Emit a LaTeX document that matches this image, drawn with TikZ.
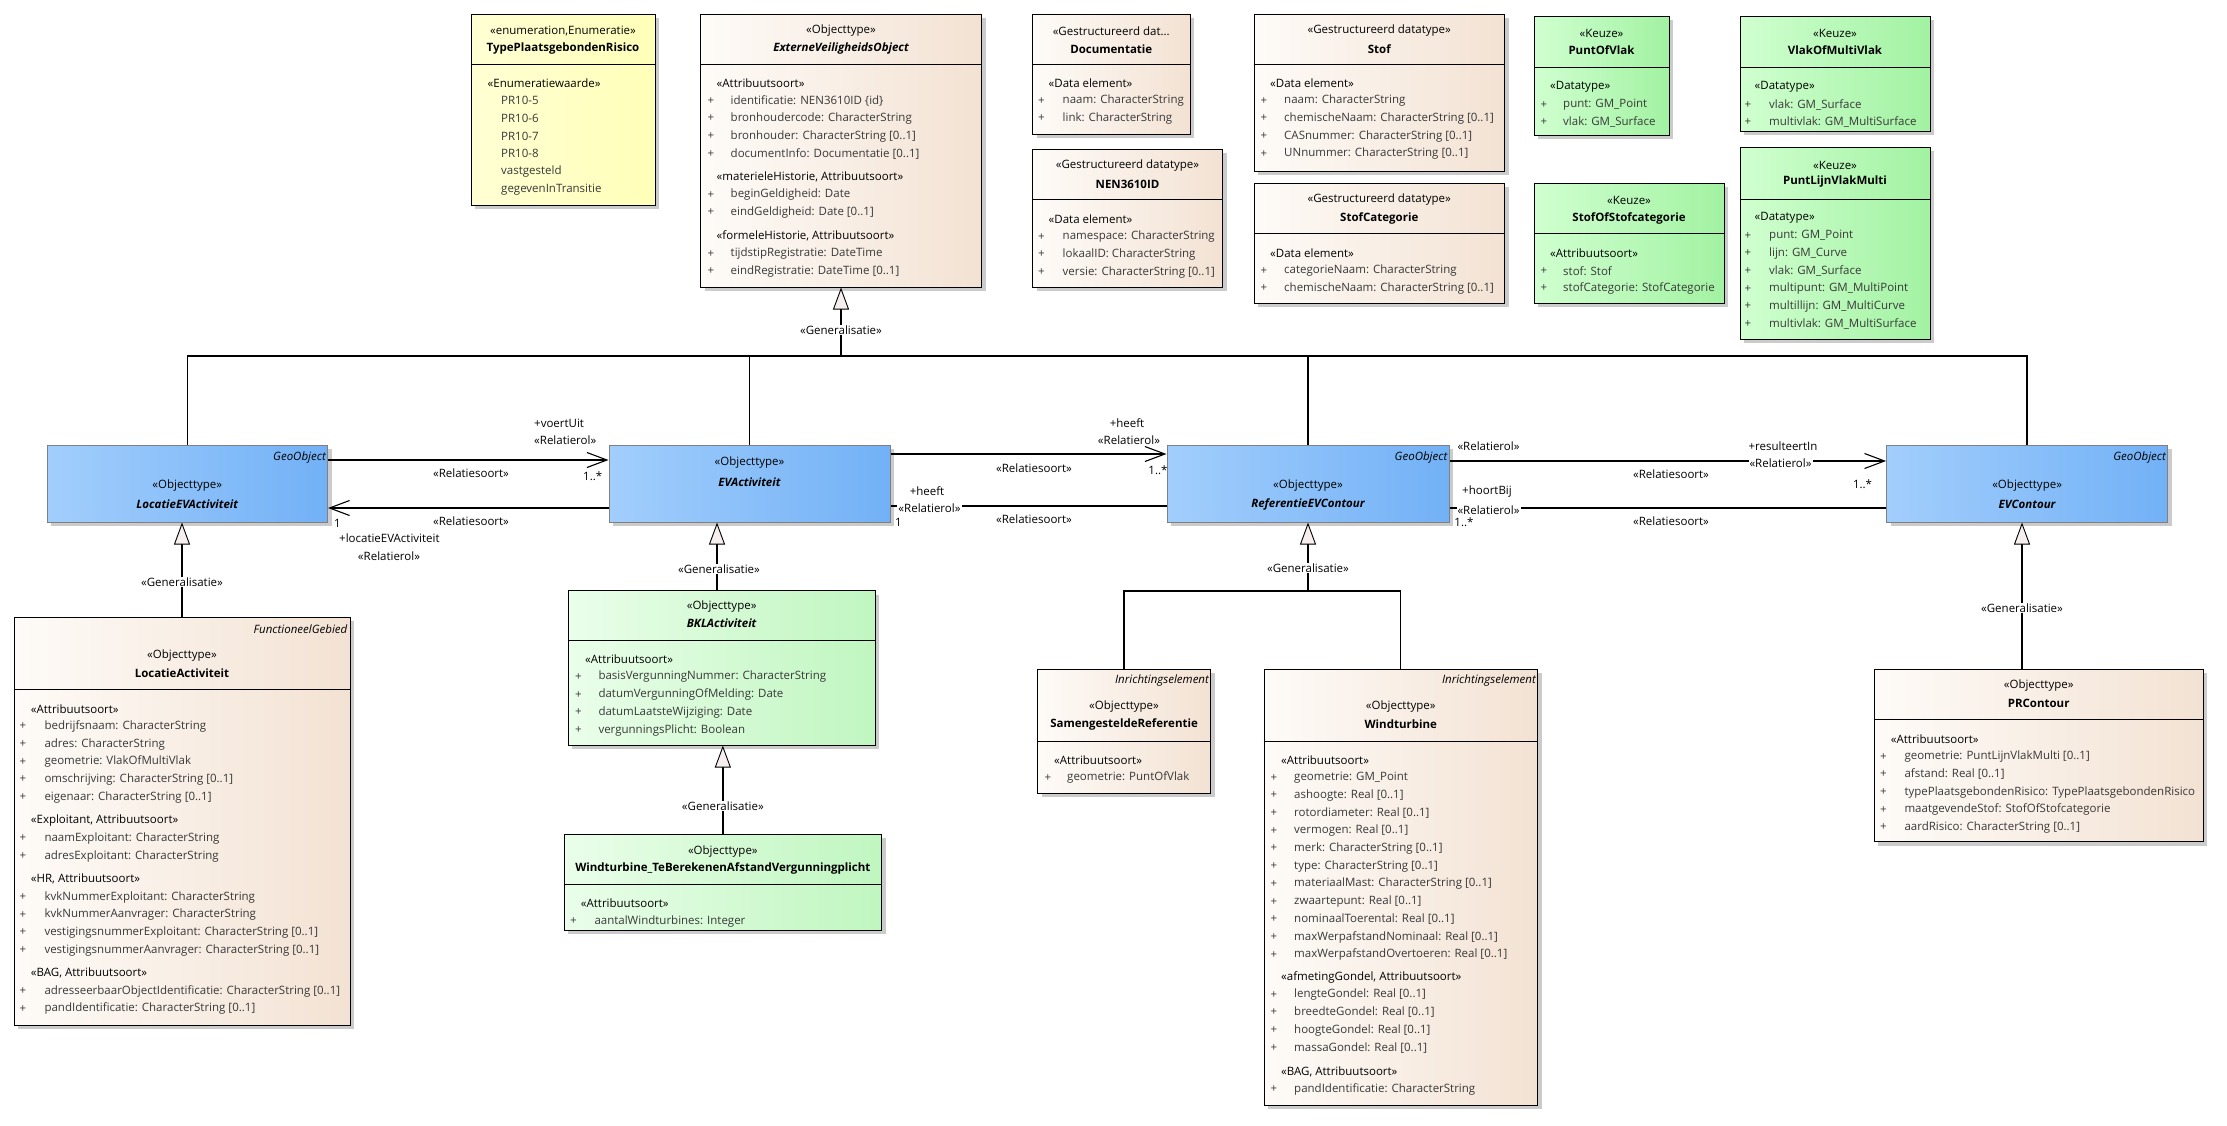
\documentclass[tikz,border=0pt]{standalone}
\usepackage{fontspec}
\setmainfont{Open Sans}
\usepackage{tikz}
\usetikzlibrary{arrows.meta,positioning,fit,calc,shadows}
\definecolor{beigeL}{HTML}{FEFBF8}
\definecolor{beigeR}{HTML}{F3E2D3}
\definecolor{geoL}{HTML}{A2CEFC}
\definecolor{geoR}{HTML}{72B1F6}
\definecolor{bklL}{HTML}{EAFEEA}
\definecolor{bklR}{HTML}{C0F6C0}
\definecolor{keuzeL}{HTML}{D0FFD0}
\definecolor{keuzeR}{HTML}{A2F2A2}
\definecolor{enumL}{HTML}{FFFFD4}
\definecolor{enumR}{HTML}{FFFFB8}
\definecolor{genfill}{HTML}{F7EFEF}
\newcommand{\fs}{\fontsize{11.5}{13}\selectfont}
\tikzset{%
  % classes
  box/.style={draw=black, line width=1pt, inner sep=0pt,
    drop shadow={shadow xshift=4pt, shadow yshift=-4pt, fill=black!40, opacity=0.5}},
  objbox/.style={box, left color=beigeL, right color=beigeR},
  geobox/.style={box, draw=black!50, left color=geoL, right color=geoR},
  bklbox/.style={box, left color=bklL, right color=bklR},
  keuzebox/.style={box, left color=keuzeL, right color=keuzeR},
  enumbox/.style={box, left color=enumL, right color=enumR},
  % texts
  stereo/.style={inner sep=0pt, font=\fs},
  cname/.style={inner sep=0pt, font=\fs\bfseries},
  aname/.style={inner sep=0pt, font=\fs\bfseries\itshape},
  parent/.style={inner sep=0pt, font=\fs\itshape, anchor=east},
  seclbl/.style={inner sep=0pt, font=\fs, anchor=west},
  attr/.style={inner sep=0pt, font=\fs, text=black!78, anchor=west},
  plus/.style={inner sep=0pt, font=\fs, text=black!78},
  lab/.style={inner sep=1pt, font=\fs},
  onlab/.style={lab, fill=white},
  % edge styles
  sepline/.style={line width=1pt},
  tree/.style={line width=1.3pt},
  assoc/.style={line width=1.9pt},
  rel/.style={assoc, -{Straight Barb[length=20pt,width=15pt,line width=1.1pt]}},
  gen/.style={tree, -{Triangle[length=22pt,width=16pt,fill=genfill,line width=0.9pt]}},
}
\newcommand{\umlclass}[4]{%
  % #1 = style, #2 = node name, #3 = top left, #4 = bottom right
  \node[#1, fit={(#3) (#4)}] (#2) {};
}
\newcommand{\umlsep}[2]{%
  % #1 = class, #2 = y of the compartment line
  \draw[sepline] (#1.west |- 0,#2) -- (#1.east |- 0,#2);
}
\newcommand{\umlhead}[6]{%
  % #1 = class, #2 = y stereotype, #3 = stereotype
  % #4 = y name, #5 = name style, #6 = name
  \node[stereo] (#1-st) at (#1.center |- 0,#2) {#3};
  \node[#5] (#1-nm) at (#1.center |- 0,#4) {#6};
}
\newcommand{\umlsec}[7]{%
  % #1 = section name, #2 = x label, #3 = x plus, #4 = x text
  % #5 = y label, #6 = label, #7 = attributes
  \node[seclbl] (#1) at (#2,#5) {«#6»};
  \foreach \itm [count=\k] in {#7}
    {\node[plus] (#1-p\k) at (#3,#5+\k*17.7) {+};
     \node[attr] (#1-a\k) at (#4,#5+\k*17.7) {\itm};}
}

\begin{document}
\begin{tikzpicture}[x=1pt, y=-1pt]
  \useasboundingbox[fill=white] (0,0) rectangle (2227,1125);

  % top row
  \umlclass{enumbox}{tpr}{471,14}{655,205}
  \umlsep{tpr}{64}
  \umlhead{tpr}{31}{«enumeration,Enumeratie»}{49}{cname}{TypePlaatsgebondenRisico}
  \node[seclbl] (tpr-sec) at (487.5,83) {«Enumeratiewaarde»};
  \foreach \itm [count=\k] in {PR10-5,PR10-6,PR10-7,PR10-8,vastgesteld,gegevenInTransitie}
    \node[attr] (tpr-a\k) at (501,83+\k*17.7) {\itm};

  \umlclass{objbox}{evo}{700.5,14}{981.5,287}
  \umlsep{evo}{64}
  \umlhead{evo}{31}{«Objecttype»}{49}{aname}{ExterneVeiligheidsObject}
  \umlsec{evo-s1}{716.5}{711}{730.5}{83}{Attribuutsoort}{identificatie: NEN3610ID \{id\},bronhoudercode: CharacterString,bronhouder: CharacterString [0..1],documentInfo: Documentatie [0..1]}
  \umlsec{evo-s2}{716.5}{711}{730.5}{177}{materieleHistorie, Attribuutsoort}{beginGeldigheid: Date,eindGeldigheid: Date [0..1]}
  \umlsec{evo-s3}{716.5}{711}{730.5}{236}{formeleHistorie, Attribuutsoort}{tijdstipRegistratie: DateTime,eindRegistratie: DateTime [0..1]}

  \umlclass{objbox}{doc}{1032.5,14}{1190,134}
  \umlsep{doc}{64}
  \umlhead{doc}{31}{«Gestructureerd dat...}{49}{cname}{Documentatie}
  \umlsec{doc-s1}{1048.5}{1041.5}{1062.5}{83}{Data element}{naam: CharacterString,link: CharacterString}

  \umlclass{objbox}{nen}{1032.5,149}{1222.5,287}
  \umlsep{nen}{199}
  \umlhead{nen}{166}{«Gestructureerd datatype»}{184}{cname}{NEN3610ID}
  \umlsec{nen-s1}{1048.5}{1041.5}{1062.5}{219}{Data element}{namespace: CharacterString,lokaalID: CharacterString,versie: CharacterString [0..1]}

  \umlclass{objbox}{stof}{1254,14}{1504.5,171}
  \umlsep{stof}{64}
  \umlhead{stof}{31}{«Gestructureerd datatype»}{49}{cname}{Stof}
  \umlsec{stof-s1}{1270}{1264}{1284}{83}{Data element}{naam: CharacterString,chemischeNaam: CharacterString [0..1],CASnummer: CharacterString [0..1],UNnummer: CharacterString [0..1]}

  \umlclass{objbox}{stofcat}{1254,183}{1504.5,303}
  \umlsep{stofcat}{233}
  \umlhead{stofcat}{200}{«Gestructureerd datatype»}{218}{cname}{StofCategorie}
  \umlsec{stofcat-s1}{1270}{1264}{1284}{253}{Data element}{categorieNaam: CharacterString,chemischeNaam: CharacterString [0..1]}

  \umlclass{keuzebox}{pov}{1534,16}{1669,135}
  \umlsep{pov}{67}
  \umlhead{pov}{33}{«Keuze»}{50}{cname}{PuntOfVlak}
  \umlsec{pov-s1}{1550}{1544}{1563}{87}{Datatype}{punt: GM\_Point,vlak: GM\_Surface}

  \umlclass{keuzebox}{vomv}{1740,16}{1930,131}
  \umlsep{vomv}{67}
  \umlhead{vomv}{33}{«Keuze»}{50}{cname}{VlakOfMultiVlak}
  \umlsec{vomv-s1}{1754.5}{1748}{1769}{87}{Datatype}{vlak: GM\_Surface,multivlak: GM\_MultiSurface}

  \umlclass{keuzebox}{sos}{1534,183}{1724,303}
  \umlsep{sos}{233}
  \umlhead{sos}{200}{«Keuze»}{218}{cname}{StofOfStofcategorie}
  \umlsec{sos-s1}{1550}{1544}{1563}{253}{Attribuutsoort}{stof: Stof,stofCategorie: StofCategorie}

  \umlclass{keuzebox}{plvm}{1740,147}{1930,339}
  \umlsep{plvm}{199}
  \umlhead{plvm}{165}{«Keuze»}{182}{cname}{PuntLijnVlakMulti}
  \umlsec{plvm-s1}{1754.5}{1748}{1769}{218}{Datatype}{punt: GM\_Point,lijn: GM\_Curve,vlak: GM\_Surface,multipunt: GM\_MultiPoint,multillijn: GM\_MultiCurve,multivlak: GM\_MultiSurface}

  % middle row
  \umlclass{geobox}{locev}{47,445}{327.5,522}
  \node[parent] (locev-pa) at ([xshift=-2pt]locev.east |- 0,458) {GeoObject};
  \umlhead{locev}{486}{«Objecttype»}{504}{aname}{LocatieEVActiviteit}

  \umlclass{geobox}{evact}{609,445}{890,522}
  \umlhead{evact}{463}{«Objecttype»}{482}{aname}{EVActiviteit}

  \umlclass{geobox}{refev}{1167,445}{1449,522}
  \node[parent] (refev-pa) at ([xshift=-2pt]refev.east |- 0,458) {GeoObject};
  \umlhead{refev}{486}{«Objecttype»}{504}{aname}{ReferentieEVContour}

  \umlclass{geobox}{evc}{1886.6,445}{2167.6,522}
  \node[parent] (evc-pa) at ([xshift=-2pt]evc.east |- 0,458) {GeoObject};
  \umlhead{evc}{486}{«Objecttype»}{504}{aname}{EVContour}

  % bottom row
  \umlclass{objbox}{locact}{14,617}{350,1025}
  \umlsep{locact}{689}
  \node[parent] (locact-pa) at ([xshift=-3pt]locact.east |- 0,629) {FunctioneelGebied};
  \umlhead{locact}{656}{«Objecttype»}{673}{cname}{LocatieActiviteit}
  \umlsec{locact-s1}{30.7}{23}{44.3}{708.7}{Attribuutsoort}{bedrijfsnaam: CharacterString,adres: CharacterString,geometrie: VlakOfMultiVlak,omschrijving: CharacterString [0..1],eigenaar: CharacterString [0..1]}
  \umlsec{locact-s2}{30.7}{23}{44.3}{820.7}{Exploitant, Attribuutsoort}{naamExploitant: CharacterString,adresExploitant: CharacterString}
  \umlsec{locact-s3}{30.7}{23}{44.3}{879.3}{HR, Attribuutsoort}{kvkNummerExploitant: CharacterString,kvkNummerAanvrager: CharacterString,vestigingsnummerExploitant: CharacterString [0..1],vestigingsnummerAanvrager: CharacterString [0..1]}
  \umlsec{locact-s4}{30.7}{23}{44.3}{973.3}{BAG, Attribuutsoort}{adresseerbaarObjectIdentificatie: CharacterString [0..1],pandIdentificatie: CharacterString [0..1]}

  \umlclass{bklbox}{bkl}{568.3,590.7}{875,745}
  \umlsep{bkl}{640.7}
  \umlhead{bkl}{606.7}{«Objecttype»}{623.3}{aname}{BKLActiviteit}
  \umlsec{bkl-s1}{585}{578.3}{598.3}{659.3}{Attribuutsoort}{basisVergunningNummer: CharacterString,datumVergunningOfMelding: Date,datumLaatsteWijziging: Date,vergunningsPlicht: Boolean}

  \umlclass{bklbox}{wtte}{564,834.3}{881.7,930}
  \umlsep{wtte}{884.3}
  \umlhead{wtte}{851}{«Objecttype»}{868.3}{cname}{Windturbine\_TeBerekenenAfstandVergunningplicht}
  \umlsec{wtte-s1}{580.7}{573.3}{594.3}{903.3}{Attribuutsoort}{aantalWindturbines: Integer}

  \umlclass{objbox}{samen}{1037.5,669}{1210.6,793}
  \umlsep{samen}{741}
  \node[parent] (samen-pa) at ([xshift=-2pt]samen.east |- 0,681) {Inrichtingselement};
  \umlhead{samen}{707}{«Objecttype»}{724}{cname}{SamengesteldeReferentie}
  \umlsec{samen-s1}{1054}{1048}{1067}{760}{Attribuutsoort}{geometrie: PuntOfVlak}

  \umlclass{objbox}{wind}{1264,669}{1537.5,1105}
  \umlsep{wind}{741}
  \node[parent] (wind-pa) at ([xshift=-2pt]wind.east |- 0,681) {Inrichtingselement};
  \umlhead{wind}{707}{«Objecttype»}{724}{cname}{Windturbine}
  \umlsec{wind-s1}{1281}{1274}{1294}{760}{Attribuutsoort}{geometrie: GM\_Point,ashoogte: Real [0..1],rotordiameter: Real [0..1],vermogen: Real [0..1],merk: CharacterString [0..1],type: CharacterString [0..1],materiaalMast: CharacterString [0..1],zwaartepunt: Real [0..1],nominaalToerental: Real [0..1],maxWerpafstandNominaal: Real [0..1],maxWerpafstandOvertoeren: Real [0..1]}
  \umlsec{wind-s2}{1281}{1274}{1294}{977}{afmetingGondel, Attribuutsoort}{lengteGondel: Real [0..1],breedteGondel: Real [0..1],hoogteGondel: Real [0..1],massaGondel: Real [0..1]}
  \umlsec{wind-s3}{1281}{1274}{1294}{1071.6}{BAG, Attribuutsoort}{pandIdentificatie: CharacterString}

  \umlclass{objbox}{prc}{1874,669.3}{2203.3,841.7}
  \umlsep{prc}{719.3}
  \umlhead{prc}{685.7}{«Objecttype»}{703.3}{cname}{PRContour}
  \umlsec{prc-s1}{1890.7}{1883.3}{1904.3}{739}{Attribuutsoort}{geometrie: PuntLijnVlakMulti [0..1],afstand: Real [0..1],typePlaatsgebondenRisico: TypePlaatsgebondenRisico,maatgevendeStof: StofOfStofcategorie,aardRisico: CharacterString [0..1]}

  % generalisations
  \coordinate (evobar) at (evo.south |- 0,356);
  \draw[tree] (locev.north) |- (evobar) -| (evc.north);
  \draw[tree] (evact.north) -- (evact.north |- evobar);
  \draw[tree] (refev.north) -- (refev.north |- evobar);
  \draw[gen] (evobar) -- (evo.south);
  \node[onlab] (g-evo) at (evo.south |- 0,330) {«Generalisatie»};

  \draw[gen] (locact.north) -- (locact.north |- locev.south);
  \node[onlab] (g-locev) at (locact.north |- 0,582) {«Generalisatie»};

  \draw[gen] (bkl.north -| 717,0) -- (evact.south -| 717,0);
  \node[onlab] (g-evact) at (719,569) {«Generalisatie»};

  \draw[gen] (wtte.north) -- (wtte.north |- bkl.south);
  \node[onlab] (g-bkl) at (wtte.north |- 0,806) {«Generalisatie»};

  \coordinate (refbar) at (refev.south |- 0,591);
  \draw[tree] (samen.north) |- (refbar) -| (wind.north);
  \draw[gen] (refbar) -- (refev.south);
  \node[onlab] (g-refev) at (refev.south |- 0,568) {«Generalisatie»};

  \draw[gen] (prc.north -| 2022,0) -- (evc.south -| 2022,0);
  \node[onlab] (g-evc) at (2022,608) {«Generalisatie»};

  % associations
  \draw[rel] (locev.east |- 0,460) -- (evact.west |- 0,460);
  \draw[rel] (evact.west |- 0,508) -- (locev.east |- 0,508);
  \draw[rel] (evact.east |- 0,454) -- (refev.west |- 0,454);
  \draw[assoc] (refev.west |- 0,506) -- (evact.east |- 0,506);
  \draw[rel] (refev.east |- 0,461) -- (evc.west |- 0,461);
  \draw[assoc] (evc.west |- 0,508) -- (refev.east |- 0,508);

  \node[lab, anchor=west] (a1-role) at (533,423) {+voertUit};
  \node[lab, anchor=west] (a1-rol) at (533,440) {«Relatierol»};
  \node[lab] (a1-soort) at (471,473) {«Relatiesoort»};
  \node[lab, anchor=west] (a1-mult) at (582,476) {1..*};

  \node[lab] (a2-soort) at (471,521) {«Relatiesoort»};
  \node[lab, anchor=west] (a2-mult) at (333,523) {1};
  \node[lab, anchor=west] (a2-role) at (338,538) {+locatieEVActiviteit};
  \node[lab] (a2-rol) at (389,556) {«Relatierol»};

  \node[lab] (a3-role) at (1127,423) {+heeft};
  \node[lab] (a3-rol) at (1129,440) {«Relatierol»};
  \node[lab] (a3-soort) at (1034,468) {«Relatiesoort»};
  \node[lab] (a3-mult) at (1158,470) {1..*};

  \node[lab] (a4-role) at (927,491) {+heeft};
  \node[onlab] (a4-rol) at (929.5,508) {«Relatierol»};
  \node[lab] (a4-mult) at (898.5,522) {1};
  \node[lab] (a4-soort) at (1034,519) {«Relatiesoort»};

  \node[lab] (a5-rol1) at (1488.5,446) {«Relatierol»};
  \node[lab] (a5-role) at (1783,446) {+resulteertIn};
  \node[onlab] (a5-rol2) at (1780.5,463) {«Relatierol»};
  \node[lab] (a5-soort) at (1671,474) {«Relatiesoort»};
  \node[lab] (a5-mult) at (1862.5,484) {1..*};

  \node[lab] (a6-role) at (1487,492) {+hoortBij};
  \node[onlab] (a6-rol) at (1488.5,510) {«Relatierol»};
  \node[lab] (a6-mult) at (1464,522) {1..*};
  \node[lab] (a6-soort) at (1671,521) {«Relatiesoort»};
\end{tikzpicture}
\end{document}
